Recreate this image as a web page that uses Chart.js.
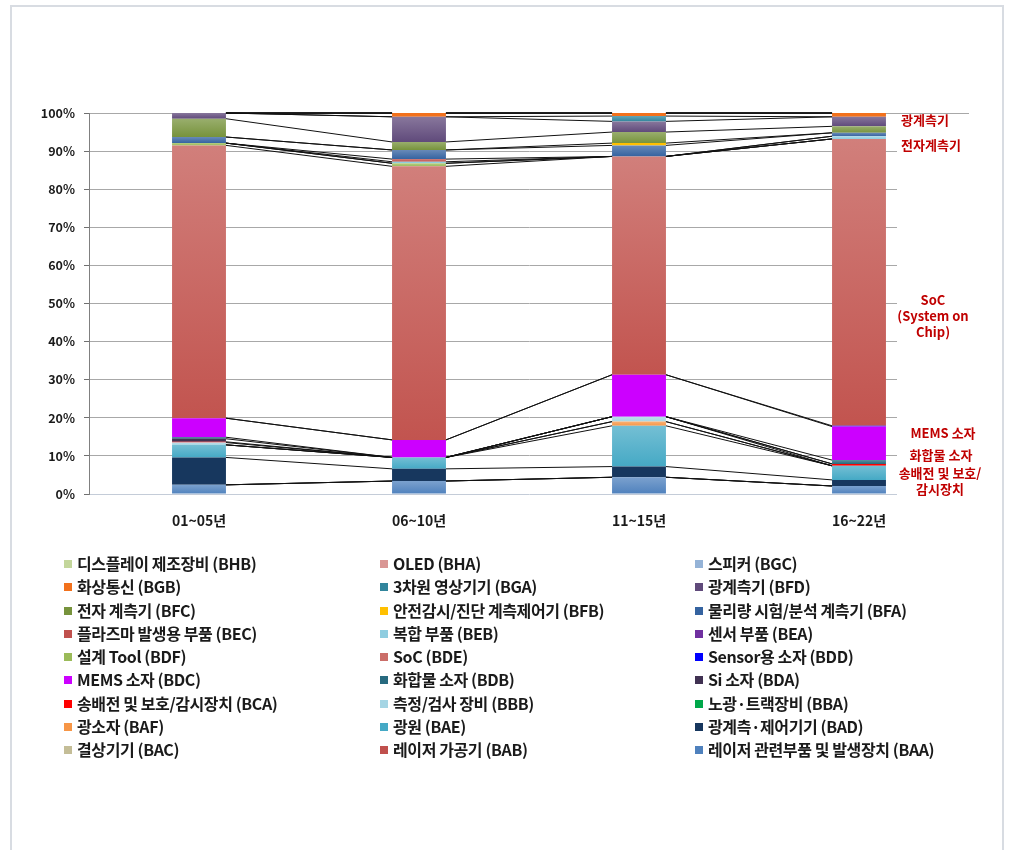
<!DOCTYPE html>
<html><head><meta charset="utf-8">
<script src="https://cdn.jsdelivr.net/npm/chart.js@4.4.1/dist/chart.umd.min.js"></script>
<style>
html,body{margin:0;padding:0;background:#fff;}
body{width:1016px;height:850px;position:relative;overflow:hidden;font-family:"Noto Sans CJK KR","Noto Sans",sans-serif;}
#frame{position:absolute;left:10px;top:5px;width:994px;height:870px;border:2px solid #d8dce2;box-sizing:border-box;z-index:2;pointer-events:none;}
#wrap{position:absolute;left:0;top:0;width:1016px;height:540px;}
#legend{position:absolute;left:0;top:0;width:1016px;height:850px;pointer-events:none;}
.li{position:absolute;font-size:16px;font-weight:bold;color:#1a1a1a;white-space:nowrap;line-height:20px;transform:translateY(-50%);letter-spacing:-0.4px;}
.sw{position:absolute;width:8px;height:8px;transform:translateY(-50%);}
</style></head>
<body>
<div id="frame"></div>
<div id="wrap"><canvas id="c" width="1016" height="540"></canvas></div>
<div id="legend"></div>
<script>
// ---- categories ----
const categories = ['01~05년', '06~10년', '11~15년', '16~22년'];
const yTickLabels = ['0%','10%','20%','30%','40%','50%','60%','70%','80%','90%','100%'];

// ---- series values (% share per period), stack order bottom -> top ----
const BAA = [2.4, 3.4, 4.4, 2.1];
const BAB = [0, 0, 0, 0];
const BAC = [0, 0, 0, 0];
const BAD = [7.2, 3.2, 2.8, 1.6];
const BAE = [3.3, 3.0, 10.7, 3.7];
const BAF = [0, 0, 1.1, 0];
const BBA = [0, 0, 0, 0];
const BBB = [0.6, 0, 1.3, 0];
const BCA = [0.2, 0, 0, 0.5];
const BDA = [0.8, 0, 0, 0];
const BDB = [0.4, 0, 0, 1.0];
const BDC = [5.0, 4.6, 11.0, 8.8];
const BDD = [0, 0, 0, 0.2];
const BDE = [71.6, 71.8, 57.3, 75.3];
const BDF = [0.6, 0.8, 0, 0];
const BEA = [0, 0, 0, 0];
const BEB = [0, 0.4, 0, 0.7];
const BEC = [0, 0.7, 0, 0];
const BFA = [1.6, 2.4, 2.9, 0.9];
const BFB = [0, 0, 0.6, 0];
const BFC = [4.8, 2.1, 2.9, 1.7];
const BFD = [1.5, 6.6, 2.8, 2.5];
const BGA = [0, 0, 1.4, 0];
const BGB = [0, 1.0, 0.8, 1.0];
const BGC = [0, 0, 0, 0];
const BHA = [0, 0, 0, 0];
const BHB = [0, 0, 0, 0];

const seriesValues = [BAA,BAB,BAC,BAD,BAE,BAF,BBA,BBB,BCA,BDA,BDB,BDC,BDD,BDE,BDF,BEA,BEB,BEC,BFA,BFB,BFC,BFD,BGA,BGB,BGC,BHA,BHB];
const seriesNames = [
 '레이저 관련부품 및 발생장치 (BAA)','레이저 가공기 (BAB)','결상기기 (BAC)','광계측·제어기기 (BAD)','광원 (BAE)','광소자 (BAF)',
 '노광·트랙장비 (BBA)','측정/검사 장비 (BBB)','송배전 및 보호/감시장치 (BCA)','Si 소자 (BDA)','화합물 소자 (BDB)','MEMS 소자 (BDC)',
 'Sensor용 소자 (BDD)','SoC (BDE)','설계 Tool (BDF)','센서 부품 (BEA)','복합 부품 (BEB)','플라즈마 발생용 부품 (BEC)',
 '물리량 시험/분석 계측기 (BFA)','안전감시/진단 계측제어기 (BFB)','전자 계측기 (BFC)','광계측기 (BFD)','3차원 영상기기 (BGA)','화상통신 (BGB)',
 '스피커 (BGC)','OLED (BHA)','디스플레이 제조장비 (BHB)'];
const seriesColors = [
 '#4f81bd','#c0504d','#c4bd97','#17375e','#45a9c5','#f79646',
 '#00a84a','#a5d5e4','#ff0000','#403152','#276a7f','#cc00ff',
 '#0000ff','#c2544f','#9bbb59','#7030a0','#8fcde0','#c0504d',
 '#3563a0','#ffc000','#77933c','#604a7b','#31859c','#f2711c',
 '#95b3d7','#d99694','#c3d69b'];
const flatSeries = ['BCA','BDC','BDD','BFB','BGB','BDA','BAD'];

const annotations = [
 {t:['광계측기'], x:925, y:120},
 {t:['전자계측기'], x:931, y:145},
 {t:['SoC','(System on','Chip)'], x:933, y:300},
 {t:['MEMS 소자'], x:943, y:433},
 {t:['화합물 소자'], x:941, y:455},
 {t:['송배전 및 보호/','감시장치'], x:940, y:473}
];

function hexToRgb(h){h=h.replace('#','');return [parseInt(h.substr(0,2),16),parseInt(h.substr(2,2),16),parseInt(h.substr(4,2),16)];}
function lighten(h,f){const c=hexToRgb(h);return 'rgb('+c.map(v=>Math.round(v+(255-v)*f)).join(',')+')';}
function codeOf(i){return seriesNames[i].match(/\((B..)\)/)[1];}

function bg(ctx){
  const base = seriesColors[ctx.datasetIndex];
  const chart = ctx.chart, area = chart.chartArea;
  if(!area || ctx.type!=='data' || flatSeries.includes(codeOf(ctx.datasetIndex))) return base;
  const ys = chart.scales.y;
  let bottom = 0;
  for(let d=0; d<ctx.datasetIndex; d++) bottom += chart.data.datasets[d].data[ctx.dataIndex];
  const top = bottom + ctx.raw;
  const y0 = ys.getPixelForValue(top), y1 = ys.getPixelForValue(bottom);
  if(y1 - y0 < 2) return base;
  const g = chart.ctx.createLinearGradient(0,y0,0,y1);
  g.addColorStop(0, lighten(base, .25));
  g.addColorStop(1, base);
  return g;
}

const datasets = seriesValues.map((v,i)=>({
  label: seriesNames[i],
  data: v,
  backgroundColor: bg,
  borderWidth: 0,
  categoryPercentage: 1.0,
  barPercentage: 0.245
}));

const seriesLines = {
  id:'seriesLines',
  afterDatasetsDraw(chart){
    const c = chart.ctx; c.save();
    c.strokeStyle = '#111'; c.lineWidth = 1;
    chart.data.datasets.forEach((ds,d)=>{
      const meta = chart.getDatasetMeta(d);
      for(let i=0;i<meta.data.length-1;i++){
        const a = meta.data[i], b = meta.data[i+1];
        c.beginPath();
        c.moveTo(a.x + a.width/2, a.y);
        c.lineTo(b.x - b.width/2, b.y);
        c.stroke();
      }
    });
    c.restore();
  }
};

const notes = {
  id:'notes',
  afterDraw(chart){
    const c = chart.ctx, a = chart.chartArea;
    c.save();
    c.fillStyle = '#fff';
    c.fillRect(a.right - 72, a.top + 3, 100, a.bottom - a.top + 8);
    c.fillStyle = '#c00000';
    c.font = 'bold 13px "Noto Sans CJK KR", sans-serif';
    c.textAlign = 'center'; c.textBaseline = 'middle';
    annotations.forEach(n=>{
      n.t.forEach((line,k)=> c.fillText(line, n.x, n.y + k*16));
    });
    c.restore();
  }
};

const H = 540;
new Chart(document.getElementById('c'), {
  type:'bar',
  data:{ labels: categories, datasets },
  options:{
    responsive:false, animation:false,
    layout:{ padding:{ left:0, right:47, top:113, bottom:0 } },
    plugins:{ legend:{display:false}, tooltip:{enabled:false} },
    scales:{
      x:{
        stacked:true,
        grid:{ display:false, drawTicks:false },
        border:{ display:false },
        ticks:{ padding:18, color:'#1a1a1a', font:{ family:'"Noto Sans CJK KR", sans-serif', size:14, weight:'bold' } },
        afterFit(s){ s.height = H - 494; }
      },
      y:{
        stacked:true, min:0, max:100,
        grid:{ color:(c)=> c.tick && c.tick.value===0 ? '#c4ccd8' : '#a8a8a8', lineWidth:1, tickLength:5, tickColor:'#707070' },
        border:{ display:true, color:'#808080', width:1 },
        ticks:{ stepSize:10, padding:9, color:'#1a1a1a',
          font:{ family:'"Noto Sans CJK KR", sans-serif', size:12.5, weight:'bold' },
          callback:(v)=> yTickLabels[Math.round(v/10)] },
        afterFit(s){ s.width = 89; }
      }
    }
  },
  plugins:[seriesLines, notes]
});

// ---- HTML legend (3 columns, row-major, top of stack first) ----
const legend = document.getElementById('legend');
const order = seriesNames.map((_,i)=>i).reverse();
const colX = [64, 380, 695];
order.forEach((si,k)=>{
  const col = k % 3, row = Math.floor(k/3);
  const y = 563 + row*23.25;
  const sw = document.createElement('div');
  sw.className='sw'; sw.style.left = colX[col]+'px'; sw.style.top = (y+1)+'px';
  sw.style.background = codeOf(si)==='BDE' ? lighten(seriesColors[si], .15) : seriesColors[si];
  legend.appendChild(sw);
  const t = document.createElement('div');
  t.className='li'; t.style.left = (colX[col]+13)+'px'; t.style.top = y+'px';
  t.textContent = seriesNames[si];
  legend.appendChild(t);
});
</script>
</body></html>
